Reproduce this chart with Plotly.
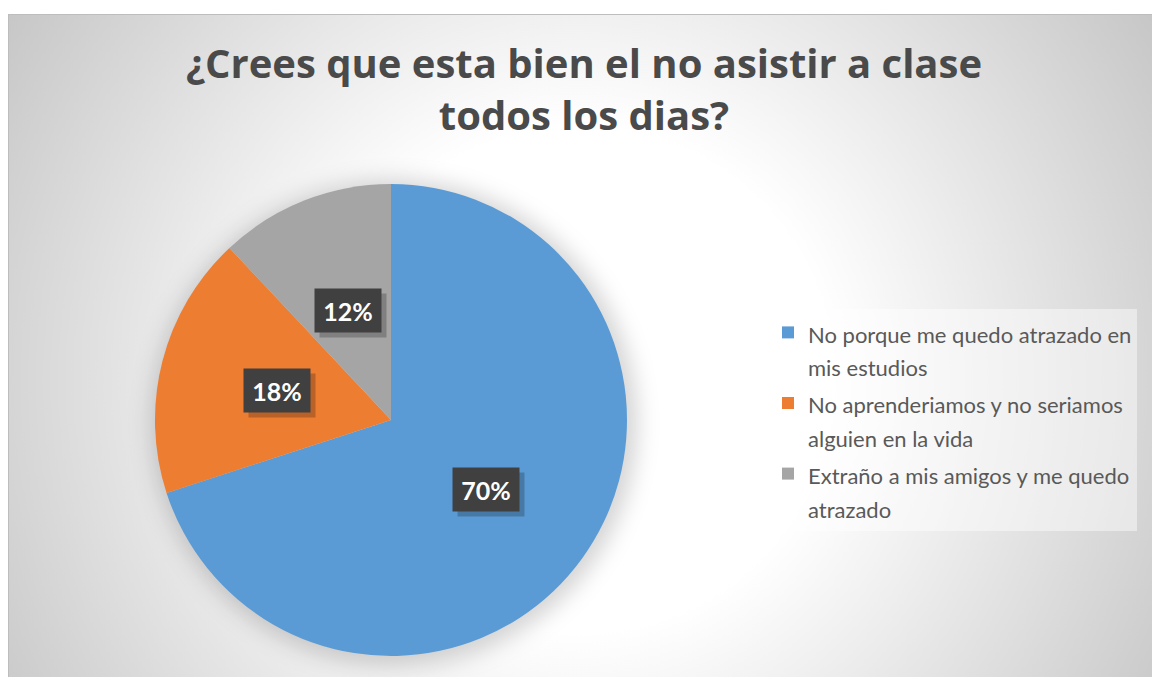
import base64, math
import plotly.graph_objects as go

# ---- data ----
categories = [
    "No porque me quedo atrazado en<br>mis estudios",
    "No aprenderiamos y no seriamos<br>alguien en la vida",
    "Extraño a mis amigos y me quedo<br>atrazado",
]
values = [70, 18, 12]
colors = ["#5B9BD5", "#ED7D31", "#A5A5A5"]
title_text = "¿Crees que esta bien el no asistir a clase<br>todos los dias?"

# ---- layout geometry (pixels) ----
W, H = 1152, 677
CX, CY, R = 391, 420, 236

svg = f"""<svg xmlns='http://www.w3.org/2000/svg' width='{W}' height='{H}' viewBox='0 0 {W} {H}' preserveAspectRatio='none'>
<defs>
<radialGradient id='g' gradientUnits='userSpaceOnUse' cx='580' cy='380' r='700'>
<stop offset='0' stop-color='#ffffff'/><stop offset='0.36' stop-color='#ffffff'/><stop offset='1' stop-color='#c4c4c4'/>
</radialGradient>
<filter id='b' x='-30%' y='-30%' width='160%' height='160%'><feGaussianBlur stdDeviation='11'/></filter>
</defs>
<rect x='8.5' y='14.5' width='1150' height='670' fill='url(#g)' stroke='#bdbdbd' stroke-width='1'/>
<circle cx='{CX+3}' cy='{CY+3}' r='{R+7}' fill='#000000' fill-opacity='0.17' filter='url(#b)'/>
</svg>"""
src = "data:image/svg+xml;base64," + base64.b64encode(svg.encode("utf-8")).decode("ascii")

legend_labels = ["<br>".join(f"<span style='font-size:22px'>{ln}</span>" for ln in c.split("<br>"))
                 for c in categories]

fig = go.Figure()
fig.add_trace(go.Pie(
    labels=legend_labels,
    values=values,
    marker=dict(colors=colors, line=dict(width=0)),
    sort=False,
    direction="clockwise",
    rotation=0,
    textinfo="none",
    hoverinfo="percent",
    domain=dict(x=[(CX - R) / W, (CX + R) / W], y=[1 - (CY + R) / H, 1 - (CY - R) / H]),
))

# data labels at half radius along each slice's mid-angle
total = sum(values)
cum = 0
annotations = []
for v in values:
    mid = (cum + v / 2) / total * 2 * math.pi
    cum += v
    px = CX + 0.5 * R * math.sin(mid)
    py = CY - 0.5 * R * math.cos(mid)
    pct = f"{round(v / total * 100)}%"
    common = dict(xref="paper", yref="paper", x=px / W, y=1 - py / H,
                  xanchor="center", yanchor="middle", showarrow=False,
                  width=64, height=41)
    annotations.append(dict(common, text=" ", bgcolor="rgba(0,0,0,0.22)",
                            xshift=5, yshift=-5))
    annotations.append(dict(common, text=f"<b>{pct}</b>", bgcolor="#404040",
                            font=dict(family="Lato, Open Sans, sans-serif", size=25, color="#ffffff")))

fig.update_layout(
    width=W, height=H,
    margin=dict(l=0, r=0, t=0, b=0),
    paper_bgcolor="#ffffff",
    plot_bgcolor="rgba(0,0,0,0)",
    images=[dict(source=src, xref="paper", yref="paper", x=0, y=1, sizex=1, sizey=1,
                 xanchor="left", yanchor="top", sizing="stretch", layer="below")],
    title=dict(text=f"<b>{title_text}</b>", x=584 / W, xanchor="center",
               y=1 - 78 / H, yanchor="top", yref="container",
               font=dict(family="Open Sans, sans-serif", size=40, color="#4a4a4a")),
    legend=dict(x=768 / W, y=1 - 309 / H, xanchor="left", yanchor="top",
                bgcolor="rgba(255,255,255,0.45)", borderwidth=0,
                valign="top",
                font=dict(family="Lato, Open Sans, sans-serif", size=26, color="#595959")),
    annotations=annotations,
    showlegend=True,
)

fig.write_html("out.html", config=dict(displayModeBar=False),
               post_script="document.body.style.margin='0';document.body.style.overflow='hidden';")
